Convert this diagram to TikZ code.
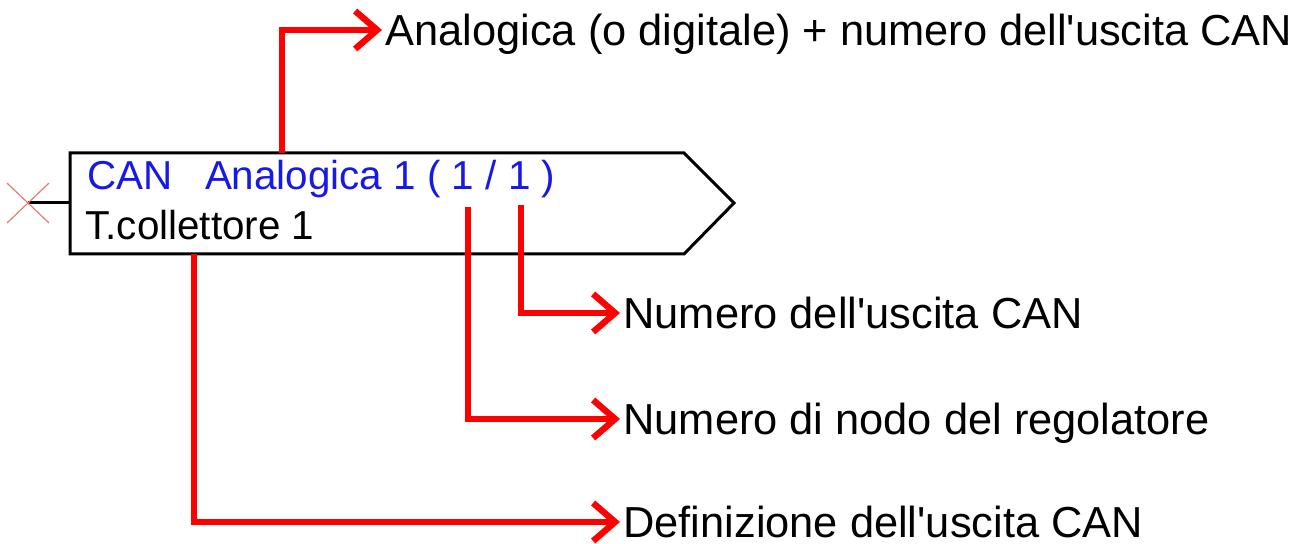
\documentclass[tikz,border=0pt]{standalone}
\usepackage{fontspec}
\setmainfont{Liberation Sans}
\usetikzlibrary{arrows.meta}
\definecolor{canblue}{RGB}{25,25,230}
\definecolor{pinred}{RGB}{230,120,120}
\tikzset{pointer/.style={draw=red,line width=3.2pt,-{Straight Barb[length=11pt,width=19pt]}},
  lbl/.style={anchor=west,inner xsep=1.5pt,inner ysep=0pt,text height=15.5pt,text depth=0pt,font=\fontsize{21.7}{26}\selectfont},
  blocktext/.style={anchor=base west,inner sep=0pt,font=\fontsize{20.2}{24}\selectfont}}

\begin{document}
\begin{tikzpicture}[x=0.5pt,y=-0.5pt]
\useasboundingbox (0,0) rectangle (1309,544);
% the output block
\draw[line width=1.5pt] (70,153) -- (684,153) -- (734,203) -- (684,254) -- (70,254) -- cycle;
\coordinate (pin) at (70,203);
\coordinate (end) at (28,203);
\draw[line width=1.5pt] (pin) -- (end);
\draw[pinred,line width=0.6pt] (7,183) -- (49,223) (7,223) -- (49,183);
% texts in the block
\node[blocktext,text=canblue] (src) at (87,190) {CAN\hspace{0.8em}Analogica 1 ( 1 / 1 )};
\node[blocktext] (name) at (85,240) {T.collettore 1};
% where the pointers start
\coordinate (tapA) at (282,153);
\coordinate (tapB) at (521,205);
\coordinate (tapC) at (468,207);
\coordinate (tapD) at (194,254);
% the labels
\node[lbl] (lblOut) at (382,30) {Analogica (o digitale) + numero dell\textquotesingle uscita CAN};
\node[lbl] (lblNum) at (620,313) {Numero dell\textquotesingle uscita CAN};
\node[lbl] (lblNode) at (620,419) {Numero di nodo del regolatore};
\node[lbl] (lblDef) at (620,522) {Definizione dell\textquotesingle uscita CAN};
% pointers
\draw[pointer] (tapA) |- (lblOut.west);
\draw[pointer] (tapB) |- (lblNum.west);
\draw[pointer] (tapC) |- (lblNode.west);
\draw[pointer] (tapD) |- (lblDef.west);
\end{tikzpicture}
\end{document}
